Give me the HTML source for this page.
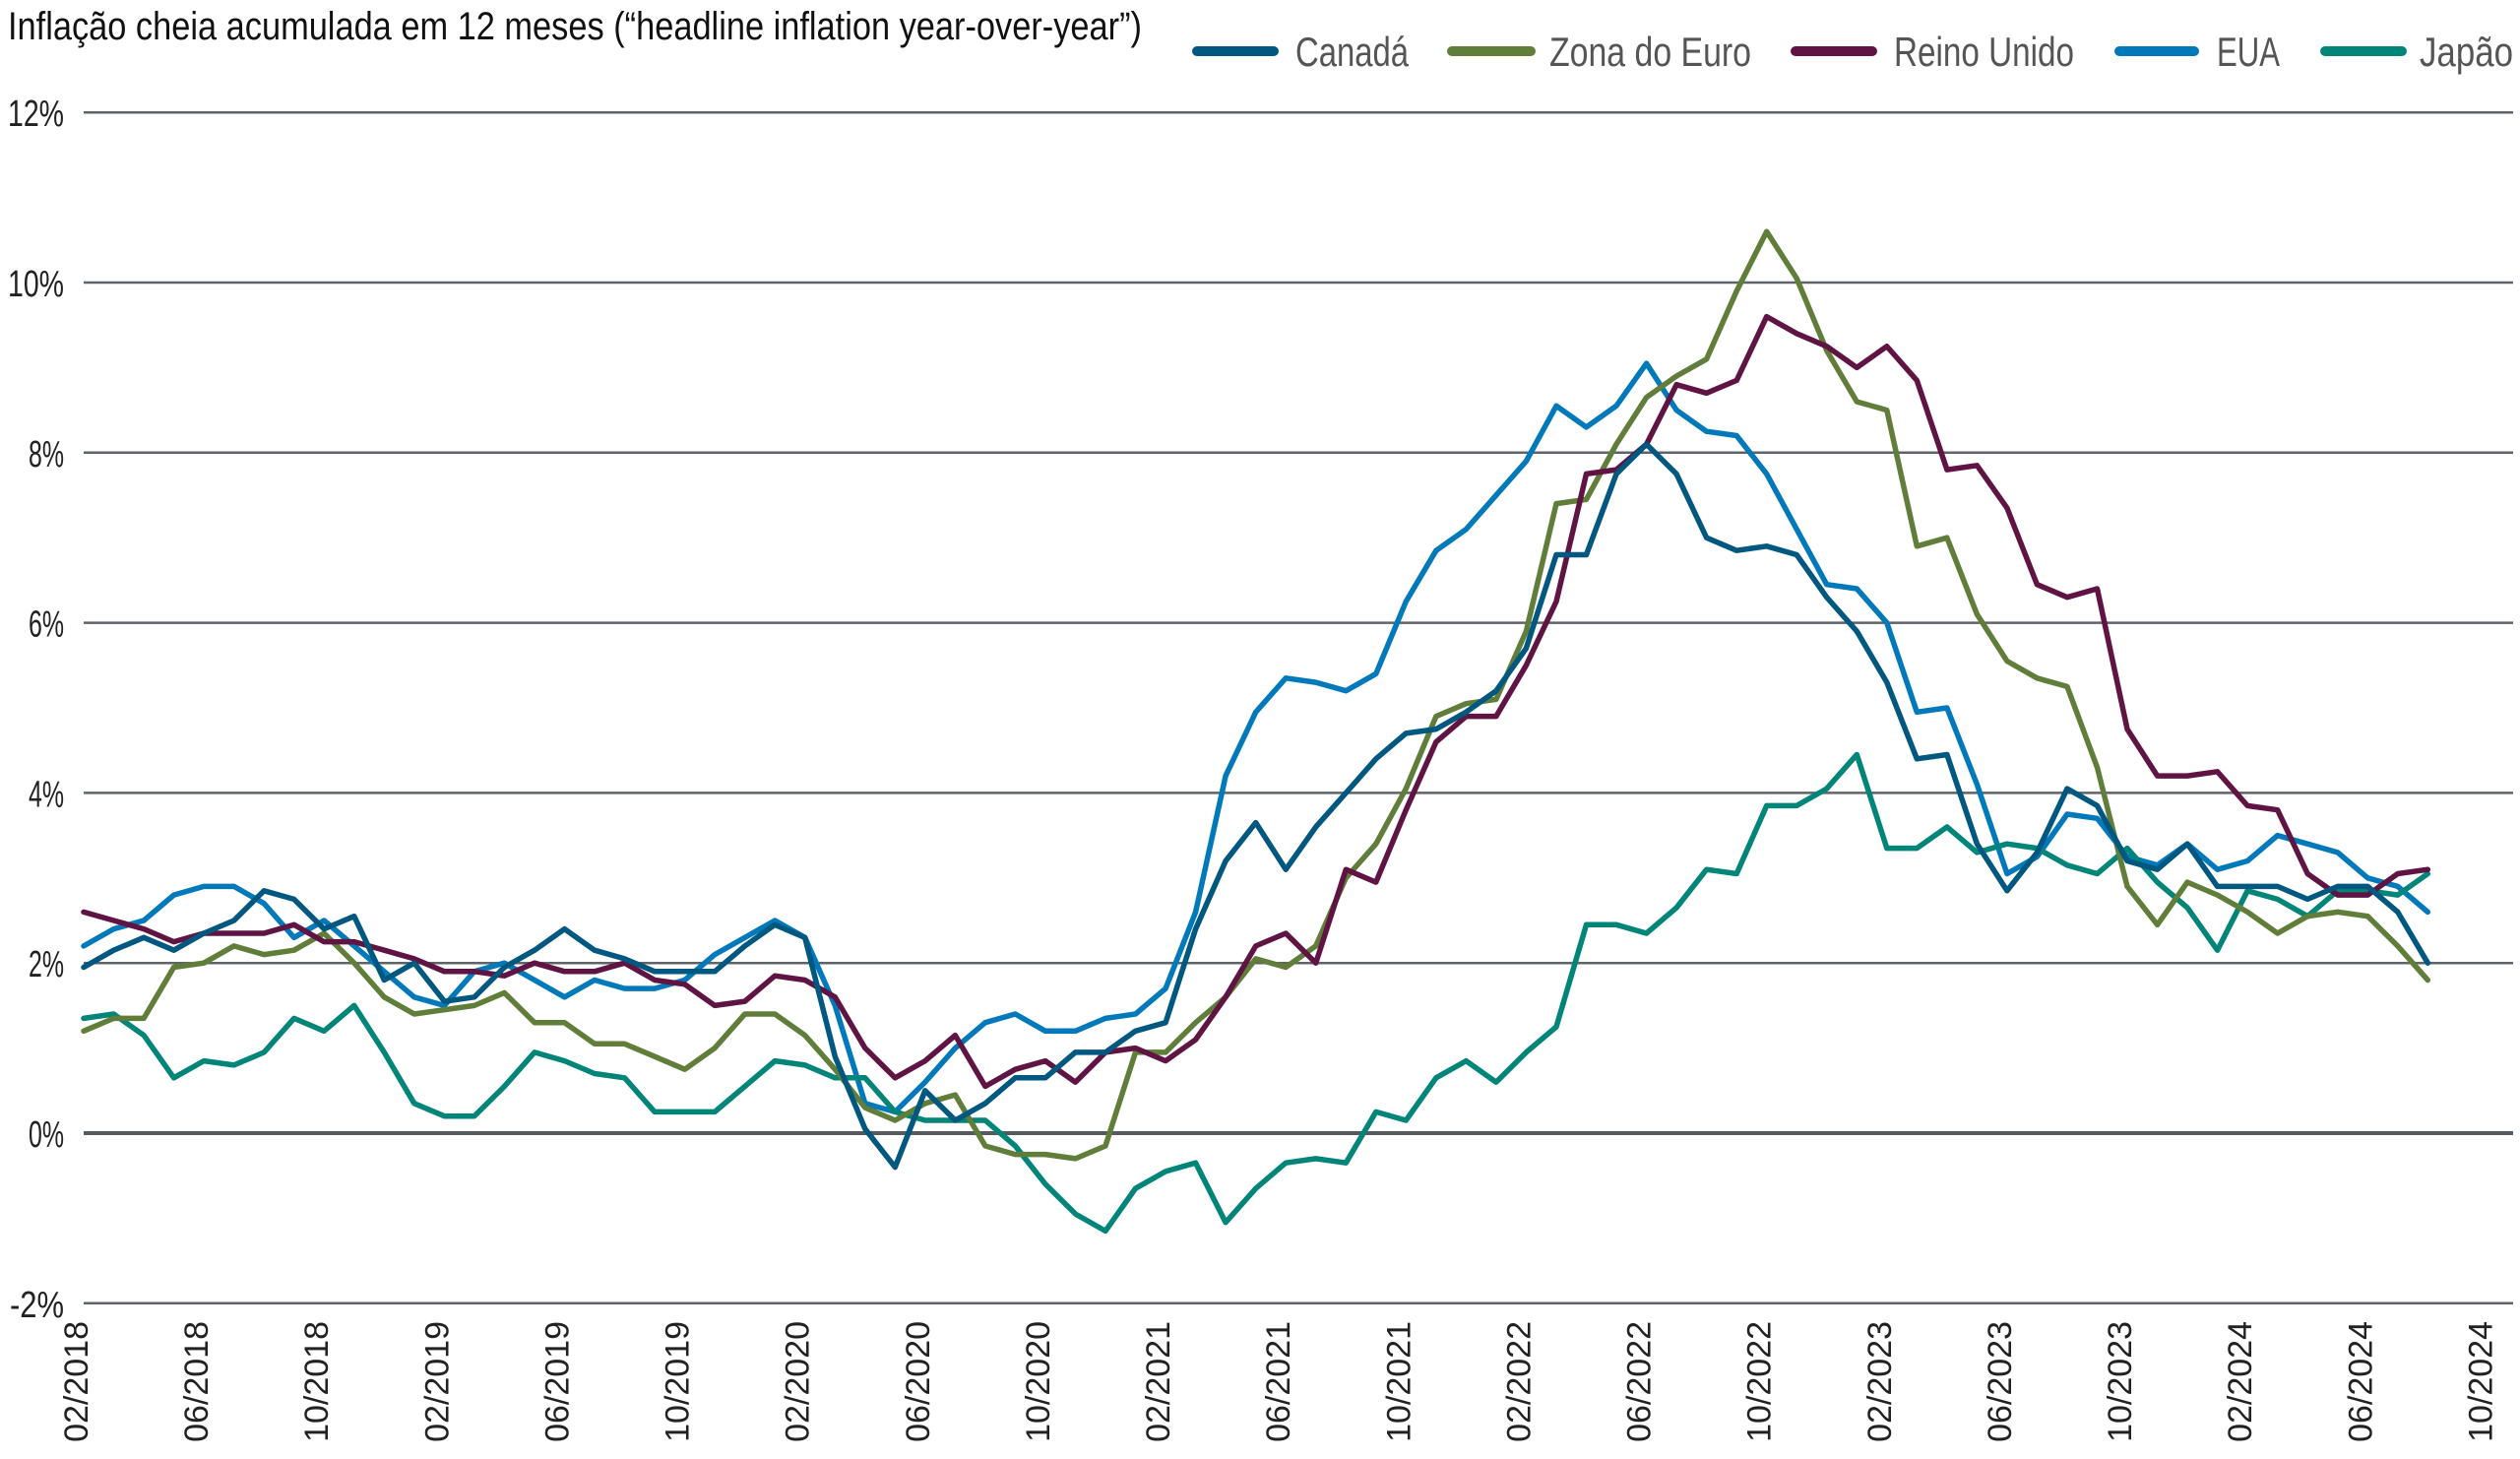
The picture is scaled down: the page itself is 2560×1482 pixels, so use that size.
<!DOCTYPE html>
<html><head><meta charset="utf-8"><style>
html,body{margin:0;padding:0;background:#fff;}
svg{display:block;}
text{font-family:"Liberation Sans Narrow","Liberation Sans",sans-serif;}
</style></head><body>
<svg id="c" width="2560" height="1482" viewBox="0 0 2560 1482" xmlns="http://www.w3.org/2000/svg">
<text x="8" y="40" font-size="40" fill="#111" textLength="1152" lengthAdjust="spacingAndGlyphs">Inflação cheia acumulada em 12 meses (“headline inflation year-over-year”)</text>
<g stroke-linecap="round" stroke-width="10">
<line x1="1216" y1="52" x2="1294" y2="52" stroke="#00577f"/>
<line x1="1475" y1="52" x2="1555" y2="52" stroke="#607e3a"/>
<line x1="1824" y1="52" x2="1902" y2="52" stroke="#601443"/>
<line x1="2153" y1="52" x2="2229" y2="52" stroke="#0079bb"/>
<line x1="2362" y1="52" x2="2440" y2="52" stroke="#008578"/>
</g>
<g font-size="42" fill="#555">
<text x="1316" y="67" textLength="115" lengthAdjust="spacingAndGlyphs">Canadá</text>
<text x="1574" y="67" textLength="205" lengthAdjust="spacingAndGlyphs">Zona do Euro</text>
<text x="1924" y="67" textLength="183" lengthAdjust="spacingAndGlyphs">Reino Unido</text>
<text x="2252" y="67" textLength="64" lengthAdjust="spacingAndGlyphs">EUA</text>
<text x="2458" y="67" textLength="95" lengthAdjust="spacingAndGlyphs">Japão</text>
</g>
<g id="grid"></g>
<g id="ylab" font-size="38" fill="#222"></g>
<g id="xlab" font-size="34" fill="#222" style="font-family:'Liberation Sans',sans-serif"></g>
<g id="series" fill="none" stroke-width="5.5" stroke-linejoin="round" stroke-linecap="round"></g>
</svg>
<script>
var NS="http://www.w3.org/2000/svg";
function el(p,t,a,tx){var e=document.createElementNS(NS,t);for(var k in a)e.setAttribute(k,a[k]);if(tx!==undefined)e.textContent=tx;document.getElementById(p).appendChild(e);return e;}
function Y(v){return 1151-v*86.4;}
function X(i){return 85+i*30.53;}
for(var v=-2;v<=12;v+=2){
  el("grid","line",{x1:85,x2:2553,y1:Y(v),y2:Y(v),stroke:v==0?"#555a60":"#5f636a","stroke-width":v==0?4:2.5});
  var s=v+"%", w=s.length==2?36:(v<0?55:57);
  el("ylab","text",{x:65-w,y:Y(v)+14,textLength:w,lengthAdjust:"spacingAndGlyphs"},s);
}
var lab=["02/2018","06/2018","10/2018","02/2019","06/2019","10/2019","02/2020","06/2020","10/2020","02/2021","06/2021","10/2021","02/2022","06/2022","10/2022","02/2023","06/2023","10/2023","02/2024","06/2024","10/2024"];
for(var k=0;k<lab.length;k++){
  var x=X(k*4)+4;
  el("xlab","text",{transform:"translate("+x+",1342) rotate(-90)","text-anchor":"end"},lab[k]);
}
var S={
"#0079bb":[2.2,2.4,2.5,2.8,2.9,2.9,2.7,2.3,2.5,2.2,1.9,1.6,1.5,1.9,2.0,1.8,1.6,1.8,1.7,1.7,1.8,2.1,2.3,2.5,2.3,1.5,0.35,0.25,0.6,1.0,1.3,1.4,1.2,1.2,1.35,1.4,1.7,2.6,4.2,4.95,5.35,5.3,5.2,5.4,6.25,6.85,7.1,7.5,7.9,8.55,8.3,8.55,9.05,8.5,8.25,8.2,7.75,7.1,6.45,6.4,6.0,4.95,5.0,4.1,3.05,3.25,3.75,3.7,3.25,3.15,3.4,3.1,3.2,3.5,3.4,3.3,3.0,2.9,2.6],
"#008578":[1.35,1.4,1.15,0.65,0.85,0.8,0.95,1.35,1.2,1.5,0.95,0.35,0.2,0.2,0.55,0.95,0.85,0.7,0.65,0.25,0.25,0.25,0.55,0.85,0.8,0.65,0.65,0.25,0.15,0.15,0.15,-0.15,-0.6,-0.95,-1.15,-0.65,-0.45,-0.35,-1.05,-0.65,-0.35,-0.3,-0.35,0.25,0.15,0.65,0.85,0.6,0.95,1.25,2.45,2.45,2.35,2.65,3.1,3.05,3.85,3.85,4.05,4.45,3.35,3.35,3.6,3.3,3.4,3.35,3.15,3.05,3.35,2.95,2.65,2.15,2.85,2.75,2.55,2.85,2.85,2.8,3.05],
"#607e3a":[1.2,1.35,1.35,1.95,2.0,2.2,2.1,2.15,2.35,2.0,1.6,1.4,1.45,1.5,1.65,1.3,1.3,1.05,1.05,0.9,0.75,1.0,1.4,1.4,1.15,0.75,0.3,0.15,0.35,0.45,-0.15,-0.25,-0.25,-0.3,-0.15,0.95,0.95,1.3,1.6,2.05,1.95,2.2,3.0,3.4,4.05,4.9,5.05,5.1,5.9,7.4,7.45,8.1,8.65,8.9,9.1,9.9,10.6,10.05,9.2,8.6,8.5,6.9,7.0,6.1,5.55,5.35,5.25,4.3,2.9,2.45,2.95,2.8,2.6,2.35,2.55,2.6,2.55,2.2,1.8],
"#601443":[2.6,2.5,2.4,2.25,2.35,2.35,2.35,2.45,2.25,2.25,2.15,2.05,1.9,1.9,1.85,2.0,1.9,1.9,2.0,1.8,1.75,1.5,1.55,1.85,1.8,1.6,1.0,0.65,0.85,1.15,0.55,0.75,0.85,0.6,0.95,1.0,0.85,1.1,1.6,2.2,2.35,2.0,3.1,2.95,3.8,4.6,4.9,4.9,5.5,6.25,7.75,7.8,8.1,8.8,8.7,8.85,9.6,9.4,9.25,9.0,9.25,8.85,7.8,7.85,7.35,6.45,6.3,6.4,4.75,4.2,4.2,4.25,3.85,3.8,3.05,2.8,2.8,3.05,3.1],
"#00577f":[1.95,2.15,2.3,2.15,2.35,2.5,2.85,2.75,2.4,2.55,1.8,2.0,1.55,1.6,1.95,2.15,2.4,2.15,2.05,1.9,1.9,1.9,2.2,2.45,2.3,0.9,0.05,-0.4,0.5,0.15,0.35,0.65,0.65,0.95,0.95,1.2,1.3,2.4,3.2,3.65,3.1,3.6,4.0,4.4,4.7,4.75,4.95,5.2,5.7,6.8,6.8,7.75,8.1,7.75,7.0,6.85,6.9,6.8,6.3,5.9,5.3,4.4,4.45,3.4,2.85,3.3,4.05,3.85,3.2,3.1,3.4,2.9,2.9,2.9,2.75,2.9,2.9,2.6,2.0]
};
for(var c in S){var d="";S[c].forEach(function(v,i){d+=(i?"L":"M")+X(i).toFixed(1)+","+Y(v).toFixed(1);});
el("series","path",{d:d,stroke:c});}
</script>
</body></html>
